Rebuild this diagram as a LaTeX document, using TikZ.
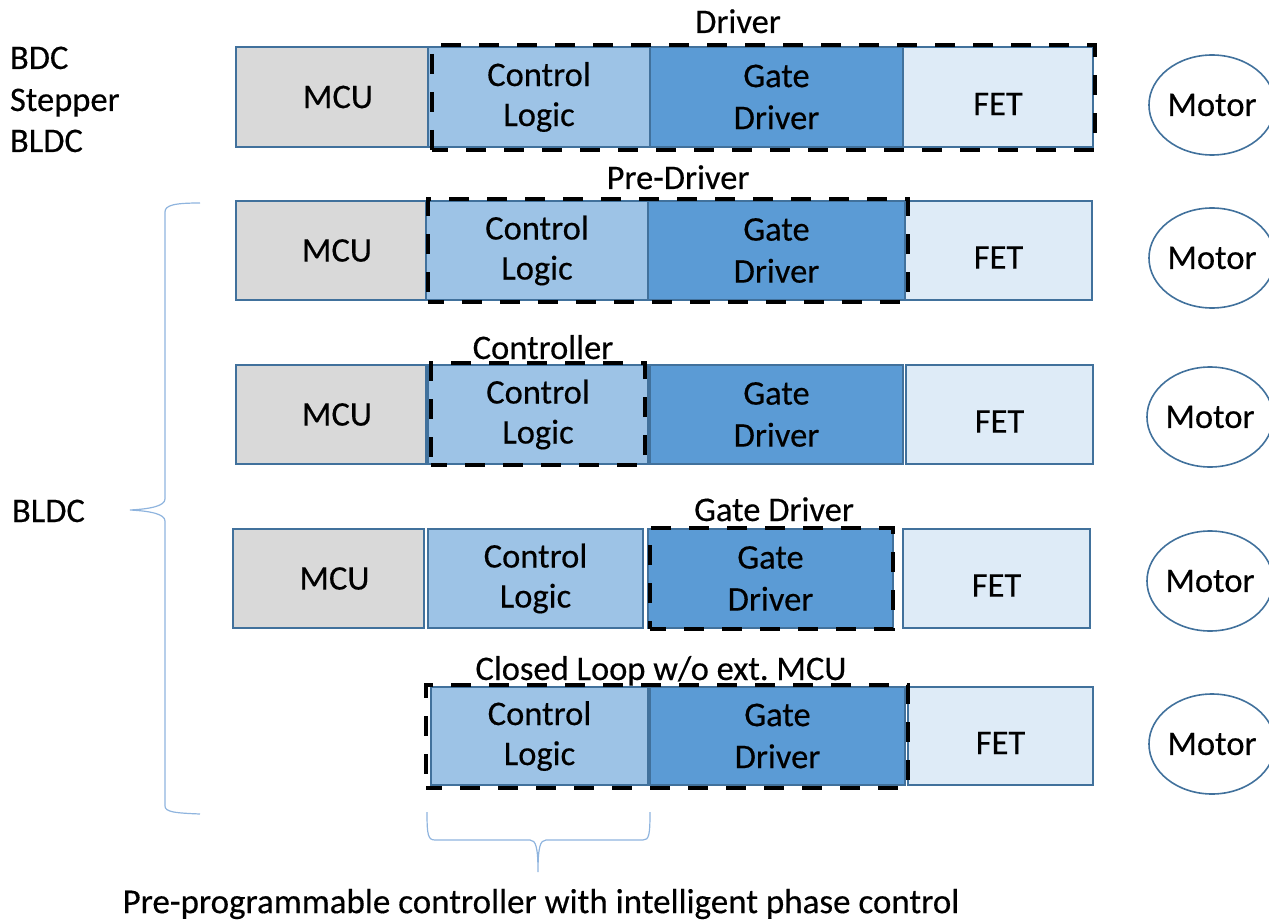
\documentclass[tikz,border=0pt]{standalone}
\usepackage{fontspec}
\setmainfont{Carlito}[FakeBold=0.35]
\usetikzlibrary{shapes.geometric}
\definecolor{mcuc}{HTML}{D9D9D9}
\definecolor{clc}{HTML}{9DC3E6}
\definecolor{gdc}{HTML}{5B9BD5}
\definecolor{fetc}{HTML}{DEEBF7}
\definecolor{edgec}{HTML}{41719C}
\definecolor{bracec}{HTML}{8FB4DE}
\frenchspacing
\begin{document}
\begin{tikzpicture}[x=1pt,y=-1pt,
  every node/.style={font=\fontsize{34.5}{42}\selectfont, inner sep=0pt, outer sep=0pt},
  blk/.style={draw=edgec, line width=1.6pt, rectangle, align=center},
  mcu/.style={blk, fill=mcuc},
  cl/.style={blk, fill=clc},
  gd/.style={blk, fill=gdc},
  fet/.style={blk, fill=fetc},
  fettext/.style={label={[yshift=-7pt]center:FET}},
  dbox/.style={draw=black, line width=4.6pt, dash pattern=on 20pt off 18pt, dash phase=4pt, rectangle, fill=none},
  motor/.style={draw=edgec, line width=1.6pt, ellipse, minimum width=120pt, minimum height=100pt},
  lbl/.style={anchor=base},
  bracep/.style={draw=bracec, line width=1.2pt}
]
\useasboundingbox (0,0) rectangle (1269,920);
% ---------- Row 1 ----------
\node[mcu, minimum width=192pt, minimum height=100pt] (m1) at (332,97) {\hspace{12pt}MCU};
\node[cl,  minimum width=222pt, minimum height=100pt] (c1) at (539,97) {\raisebox{-2pt}{Control}\\Logic};
\node[gd,  minimum width=253pt, minimum height=100pt] (g1) at (776.5,97) {Gate\\Driver};
\node[fet, fettext, minimum width=190pt, minimum height=100pt] (f1) at (998,97) {};
\node[dbox, minimum width=663pt, minimum height=105pt] (d1) at (763.5,97.5) {};
\node[motor] (o1) at (1212,105) {Motor};
\node[lbl] (t1) at (738,33) {Driver};
% ---------- Row 2 ----------
\node[mcu, minimum width=190pt, minimum height=99pt] (m2) at (331,250.5) {\hspace{12pt}MCU};
\node[cl,  minimum width=222pt, minimum height=99pt] (c2) at (537,250.5) {\raisebox{-2pt}{Control}\\Logic};
\node[gd,  minimum width=257pt, minimum height=99pt] (g2) at (776.5,250.5) {Gate\\Driver};
\node[fet, fettext, minimum width=187pt, minimum height=99pt] (f2) at (998.5,250.5) {};
\node[dbox, minimum width=480pt, minimum height=103pt] (d2) at (668,250.5) {};
\node[motor] (o2) at (1212,258) {Motor};
\node[lbl] (t2) at (678,189) {Pre-Driver};
% ---------- Row 3 ----------
\node[mcu, minimum width=190pt, minimum height=99pt] (m3) at (331,414.5) {\hspace{12pt}MCU};
\node[cl,  minimum width=220pt, minimum height=99pt] (c3) at (538,414.5) {\raisebox{-2pt}{Control}\\Logic};
\node[gd,  minimum width=253pt, minimum height=99pt] (g3) at (776.5,414.5) {Gate\\Driver};
\node[fet, fettext, minimum width=187pt, minimum height=99pt] (f3) at (999.5,414.5) {};
\node[dbox, minimum width=214pt, minimum height=102pt] (d3) at (538,414) {};
\node[motor] (o3) at (1210,417) {Motor};
\node[lbl] (t3) at (543,359) {Controller};
% ---------- Row 4 ----------
\node[mcu, minimum width=191pt, minimum height=99pt] (m4) at (328.5,578.5) {\hspace{12pt}MCU};
\node[cl,  minimum width=215pt, minimum height=99pt] (c4) at (535.5,578.5) {\raisebox{-2pt}{Control}\\Logic};
\node[gd,  minimum width=245pt, minimum height=99pt] (g4) at (770.5,578.5) {Gate\\Driver};
\node[fet, fettext, minimum width=187pt, minimum height=99pt] (f4) at (996.5,578.5) {};
\node[dbox, minimum width=243pt, minimum height=101pt] (d4) at (771.5,578.5) {};
\node[motor] (o4) at (1210,581) {Motor};
\node[lbl] (t4) at (774,521) {Gate Driver};
% ---------- Row 5 ----------
\node[cl,  minimum width=217pt, minimum height=98pt] (c5) at (539.5,736) {\raisebox{-2pt}{Control}\\Logic};
\node[gd,  minimum width=255pt, minimum height=98pt] (g5) at (777.5,736) {Gate\\Driver};
\node[fet, fettext, minimum width=185pt, minimum height=98pt] (f5) at (1000.5,736) {};
\node[dbox, minimum width=482pt, minimum height=103pt] (d5) at (667,736.5) {};
\node[motor] (o5) at (1212,744) {Motor};
\node[lbl] (t5) at (661,680) {Closed Loop w/o ext. MCU};
% ---------- Left texts ----------
\node[anchor=base west] (s1) at (10,69) {BDC};
\node[anchor=base west] (s2) at (10,111) {Stepper};
\node[anchor=base west] (s3) at (10,152) {BLDC};
\node[anchor=base west] (s4) at (12,522) {BLDC};
% ---------- Left brace ----------
\path[bracep] (200,203) .. controls (175,203) and (165,205) .. (165,212)
  -- (165,499) .. controls (165,506) and (150,509) .. (130,510)
  .. controls (150,511) and (165,514) .. (165,521)
  -- (165,806) .. controls (165,812) and (175,813) .. (200,814);
% ---------- Bottom brace ----------
\path[bracep] (427,812) .. controls (427,835) and (428,840) .. (435,840)
  -- (530,840) .. controls (536,840) and (538,848) .. (538,872)
  .. controls (538,848) and (540,840) .. (546,840)
  -- (643,840) .. controls (649,840) and (650,835) .. (650,812);
\node[font=\fontsize{35}{42}\selectfont] (bt) at (541,904) {Pre-programmable controller with intelligent phase control};
\end{tikzpicture}
\end{document}
